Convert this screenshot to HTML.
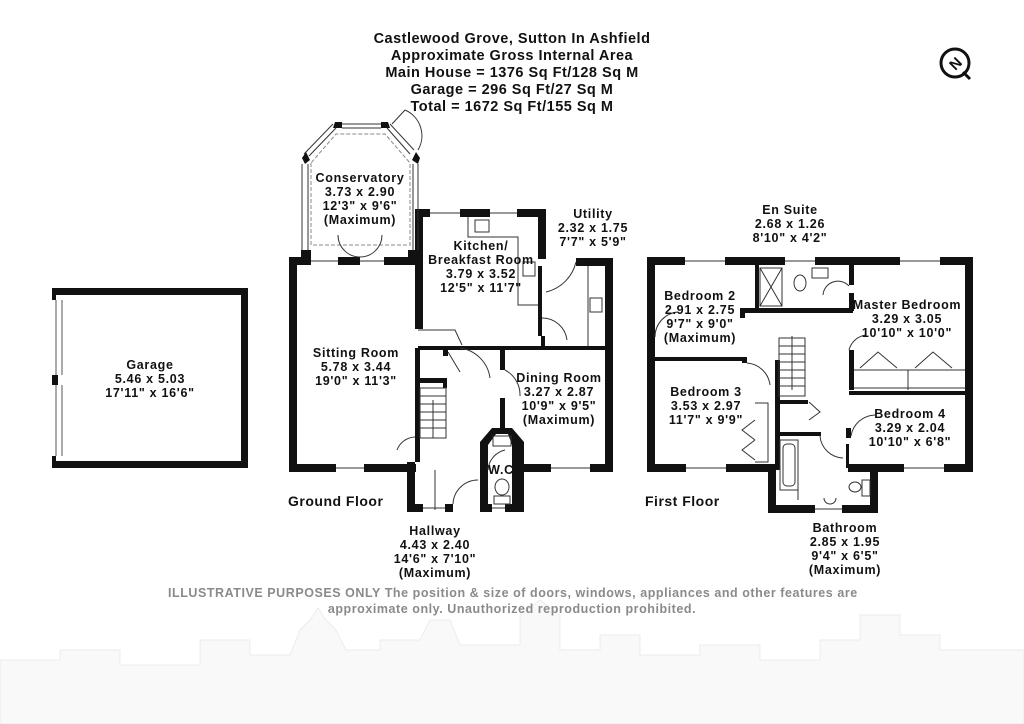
<!DOCTYPE html>
<html><head><meta charset="utf-8"><style>
html,body{margin:0;padding:0;background:#fff;}
svg{display:block}
text{font-family:"Liberation Sans",sans-serif;font-weight:bold;fill:#111;}
.r{font-size:12.5px;letter-spacing:0.7px}
</style></head><body>
<svg width="1024" height="724" viewBox="0 0 1024 724" xmlns="http://www.w3.org/2000/svg">
<!-- skyline -->
<path d="M0 724 L0 660 L60 660 L60 650 L120 650 L120 665 L200 665 L200 640 L250 640 L250 655 L290 655 L300 630 L310 620 L318 608 L326 620 L336 630 L346 650 L380 650 L380 640 L420 640 L430 620 L450 620 L460 645 L520 645 L520 615 L540 600 L560 615 L560 650 L600 650 L600 635 L640 635 L640 655 L700 655 L700 645 L760 645 L760 660 L820 660 L820 640 L860 640 L860 615 L900 615 L900 635 L940 635 L940 650 L1024 650 L1024 724 Z" fill="#f9f9f9" stroke="#ececec"/>
<!-- heading -->
<g font-size="14.5" text-anchor="middle" style="letter-spacing:0.5px">
<text x="512" y="43">Castlewood Grove, Sutton In Ashfield</text>
<text x="512" y="60">Approximate Gross Internal Area</text>
<text x="512" y="77">Main House = 1376 Sq Ft/128 Sq M</text>
<text x="512" y="94">Garage = 296 Sq Ft/27 Sq M</text>
<text x="512" y="111">Total = 1672 Sq Ft/155 Sq M</text>
</g>
<!-- compass -->
<circle cx="955" cy="63" r="14" fill="none" stroke="#111" stroke-width="3"/>
<text x="955" y="69" font-size="15" text-anchor="middle" transform="rotate(-45 955 63)">N</text>
<path d="M963 72 L970 79" stroke="#111" stroke-width="3"/>

<!-- GARAGE -->
<g fill="#111">
<rect x="52" y="288" width="196" height="7"/>
<rect x="52" y="461" width="196" height="7"/>
<rect x="241" y="288" width="7" height="180"/>
<rect x="52" y="288" width="4" height="12"/><rect x="52" y="456" width="4" height="12"/>
<rect x="52" y="375" width="6" height="10"/>
</g>
<g fill="none" stroke="#555" stroke-width="1">
<path d="M56 300 L56 375 M62 300 L62 375 M56 385 L56 456 M62 385 L62 456"/>
</g>
<g class="r" text-anchor="middle">
<text x="150" y="369">Garage</text><text x="150" y="383">5.46 x 5.03</text><text x="150" y="397">17'11" x 16'6"</text>
</g>

<!-- GROUND FLOOR walls -->
<g fill="#111">
<rect x="289" y="257" width="8" height="215"/>
<rect x="289" y="257" width="22" height="8"/><rect x="338" y="257" width="22" height="8"/><rect x="384" y="257" width="34" height="8"/>
<rect x="289" y="464" width="47" height="8"/><rect x="364" y="464" width="52" height="8"/>
<rect x="415" y="209" width="8" height="120"/>
<rect x="415" y="348" width="5" height="114"/>
<polygon points="335,122 342,122 342,128 333,128"/><polygon points="381,122 388,122 390,128 381,128"/>
<polygon points="302,158 306,152 310,160 305,164"/><polygon points="412,160 416,152 420,158 418,164"/>
<rect x="301" y="250" width="10" height="8"/><rect x="408" y="250" width="10" height="8"/>
<rect x="415" y="209" width="15" height="8"/><rect x="460" y="209" width="30" height="8"/><rect x="517" y="209" width="29" height="8"/>
<rect x="538" y="209" width="8" height="50"/><rect x="538" y="266" width="4" height="70"/>
<rect x="576" y="258" width="37" height="8"/>
<rect x="605" y="258" width="8" height="214"/>
<rect x="418" y="346" width="195" height="4"/>
<rect x="541" y="336" width="4" height="12"/>
<rect x="500" y="348" width="5" height="22"/><rect x="500" y="398" width="5" height="35"/>
<rect x="520" y="464" width="31" height="8"/><rect x="590" y="464" width="23" height="8"/>
<rect x="407" y="462" width="8" height="50"/><rect x="407" y="504" width="16" height="8"/><rect x="445" y="504" width="8" height="8"/>
<polygon points="480,442 492,428 512,428 524,442 524,512 512,512 512,445 508,434 496,434 488,445 488,512 480,512"/>
<rect x="480" y="504" width="12" height="8"/><rect x="505" y="504" width="19" height="8"/>
<rect x="516" y="464" width="8" height="48"/>
<rect x="418" y="378" width="28" height="5"/><rect x="443" y="378" width="4" height="10"/>
<rect x="443" y="348" width="5" height="8"/>
</g>
<g fill="none" stroke="#333" stroke-width="1">
<path d="M342 124 L381 124 M342 128 L381 128"/>
<path d="M333 124 L304 154 M336 128 L309 156"/>
<path d="M390 124 L414 150 M387 128 L410 154"/>
<path d="M302 164 L302 250 M308 164 L308 250"/>
<path d="M413 164 L413 250 M418 164 L418 250"/>
<path d="M311 261 L338 261 M360 261 L384 261 M336 468 L364 468 M430 213 L460 213 M490 213 L517 213 M423 508 L445 508 M492 508 L505 508 M551 468 L590 468"/>
<path d="M311 163 L311 245 L410 245 L410 163 L385 134 L336 134 Z" stroke-dasharray="4 2" stroke="#888"/>
<path d="M360 257 A22 22 0 0 1 338 235 M360 257 A22 22 0 0 0 382 235"/>
<path d="M392 124 L405 110 M405 110 A28 28 0 0 1 418 150"/>
<path d="M468 217 L468 237 L518 237 L518 305 L538 305"/>
<rect x="475" y="220" width="14" height="12"/>
<rect x="523" y="262" width="12" height="14"/>
<path d="M588 266 L588 346"/><rect x="590" y="298" width="12" height="14"/>
<path d="M418 330 L455 330 L462 345 M542 318 A25 25 0 0 1 567 340 M576 262 A40 40 0 0 1 546 292 M460 348 A35 35 0 0 1 490 378"/>
<path d="M505 370 A28 28 0 0 1 520 396 M448 352 L460 372 M397 450 A20 20 0 0 1 415 437 M453 504 A25 25 0 0 1 478 480 M488 470 A22 22 0 0 1 505 450"/>
<rect x="420" y="388" width="26" height="50"/>
<path d="M420 396 L446 396 M420 404 L446 404 M420 412 L446 412 M420 420 L446 420 M420 428 L446 428 M433 438 L433 400"/>
<path d="M435 510 L435 470"/>
<rect x="493" y="436" width="18" height="10"/><ellipse cx="502" cy="487" rx="7" ry="8"/><rect x="494" y="496" width="16" height="8"/>
</g>
<g class="r" text-anchor="middle">
<text x="360" y="182">Conservatory</text><text x="360" y="196">3.73 x 2.90</text><text x="360" y="210">12'3" x 9'6"</text><text x="360" y="224">(Maximum)</text>
<text x="481" y="250">Kitchen/</text><text x="481" y="264">Breakfast Room</text><text x="481" y="278">3.79 x 3.52</text><text x="481" y="292">12'5" x 11'7"</text>
<text x="593" y="218">Utility</text><text x="593" y="232">2.32 x 1.75</text><text x="593" y="246">7'7" x 5'9"</text>
<text x="356" y="357">Sitting Room</text><text x="356" y="371">5.78 x 3.44</text><text x="356" y="385">19'0" x 11'3"</text>
<text x="559" y="382">Dining Room</text><text x="559" y="396">3.27 x 2.87</text><text x="559" y="410">10'9" x 9'5"</text><text x="559" y="424">(Maximum)</text>
<text x="501" y="474">W.C</text>
<text x="435" y="535">Hallway</text><text x="435" y="549">4.43 x 2.40</text><text x="435" y="563">14'6" x 7'10"</text><text x="435" y="577">(Maximum)</text>
</g>
<text x="288" y="506" font-size="14" style="letter-spacing:0.5px">Ground Floor</text>

<!-- FIRST FLOOR -->
<g fill="#111">
<rect x="647" y="257" width="8" height="215"/>
<rect x="647" y="257" width="38" height="8"/><rect x="725" y="257" width="60" height="8"/><rect x="815" y="257" width="85" height="8"/><rect x="940" y="257" width="33" height="8"/>
<rect x="965" y="257" width="8" height="215"/>
<rect x="647" y="464" width="39" height="8"/><rect x="726" y="464" width="50" height="8"/>
<rect x="848" y="464" width="56" height="8"/><rect x="944" y="464" width="29" height="8"/>
<rect x="768" y="464" width="8" height="48"/><rect x="870" y="464" width="8" height="48"/>
<rect x="768" y="505" width="47" height="8"/><rect x="842" y="505" width="36" height="8"/>
<rect x="655" y="357" width="92" height="4"/><rect x="742" y="357" width="5" height="6"/>
<rect x="740" y="308" width="113" height="5"/><rect x="740" y="308" width="5" height="10"/>
<rect x="755" y="265" width="4" height="45"/>
<rect x="849" y="265" width="5" height="20"/><rect x="849" y="293" width="5" height="18"/>
<rect x="849" y="350" width="5" height="40"/>
<rect x="849" y="391" width="124" height="4"/>
<rect x="775" y="360" width="5" height="110"/>
<rect x="778" y="400" width="30" height="4"/>
<rect x="776" y="432" width="45" height="4"/>
<rect x="846" y="428" width="5" height="10"/><rect x="846" y="444" width="3" height="24"/>
</g>
<g fill="none" stroke="#333" stroke-width="1">
<path d="M685 261 L725 261 M785 261 L815 261 M900 261 L940 261 M686 468 L726 468 M904 468 L944 468 M815 509 L842 509"/>
<rect x="760" y="268" width="22" height="38"/><path d="M760 268 L782 306 M782 268 L760 306"/>
<ellipse cx="800" cy="283" rx="6" ry="8"/><rect x="812" y="268" width="16" height="10"/>
<path d="M854 370 L965 370 M854 388 L965 388 M908 370 L908 390 M860 368 L878 352 L897 368 M915 368 L933 352 L952 368"/>
<path d="M755 403 L768 403 L768 462 L755 462 M755 420 L742 430 L755 440 M755 440 L742 450 L755 460"/>
<rect x="779" y="338" width="26" height="58"/>
<path d="M779 346 L805 346 M779 354 L805 354 M779 362 L805 362 M779 370 L805 370 M779 378 L805 378 M779 386 L805 386 M792 336 L792 390"/>
<rect x="780" y="440" width="18" height="50"/><rect x="783" y="444" width="12" height="42" rx="4"/>
<ellipse cx="855" cy="487" rx="6" ry="5"/><rect x="862" y="480" width="8" height="16"/>
<path d="M824 498 A6 6 0 0 0 836 498"/>
<path d="M655 337 A25 25 0 0 1 678 312 M747 363 A25 25 0 0 1 770 385 M823 295 A15 15 0 0 1 849 286 M849 350 A20 20 0 0 1 866 335 M809 402 L820 412 L809 420 M851 436 A25 25 0 0 1 875 415 M820 436 A24 24 0 0 0 843 458 M798 485 L798 500"/>
</g>
<g class="r" text-anchor="middle">
<text x="790" y="214">En Suite</text><text x="790" y="228">2.68 x 1.26</text><text x="790" y="242">8'10" x 4'2"</text>
<text x="700" y="300">Bedroom 2</text><text x="700" y="314">2.91 x 2.75</text><text x="700" y="328">9'7" x 9'0"</text><text x="700" y="342">(Maximum)</text>
<text x="907" y="309">Master Bedroom</text><text x="907" y="323">3.29 x 3.05</text><text x="907" y="337">10'10" x 10'0"</text>
<text x="706" y="396">Bedroom 3</text><text x="706" y="410">3.53 x 2.97</text><text x="706" y="424">11'7" x 9'9"</text>
<text x="910" y="418">Bedroom 4</text><text x="910" y="432">3.29 x 2.04</text><text x="910" y="446">10'10" x 6'8"</text>
<text x="845" y="532">Bathroom</text><text x="845" y="546">2.85 x 1.95</text><text x="845" y="560">9'4" x 6'5"</text><text x="845" y="574">(Maximum)</text>
</g>
<text x="645" y="506" font-size="14" style="letter-spacing:0.5px">First Floor</text>

<!-- footer -->
<g font-size="12.5" style="letter-spacing:0.55px">
<text x="168" y="597" style="fill:#8a8a8a">ILLUSTRATIVE PURPOSES ONLY  The position &amp; size of doors, windows, appliances and other features are</text>
<text x="512" y="613" text-anchor="middle" style="fill:#8a8a8a">approximate only. Unauthorized reproduction prohibited.</text>
</g>
</svg>
</body></html>
